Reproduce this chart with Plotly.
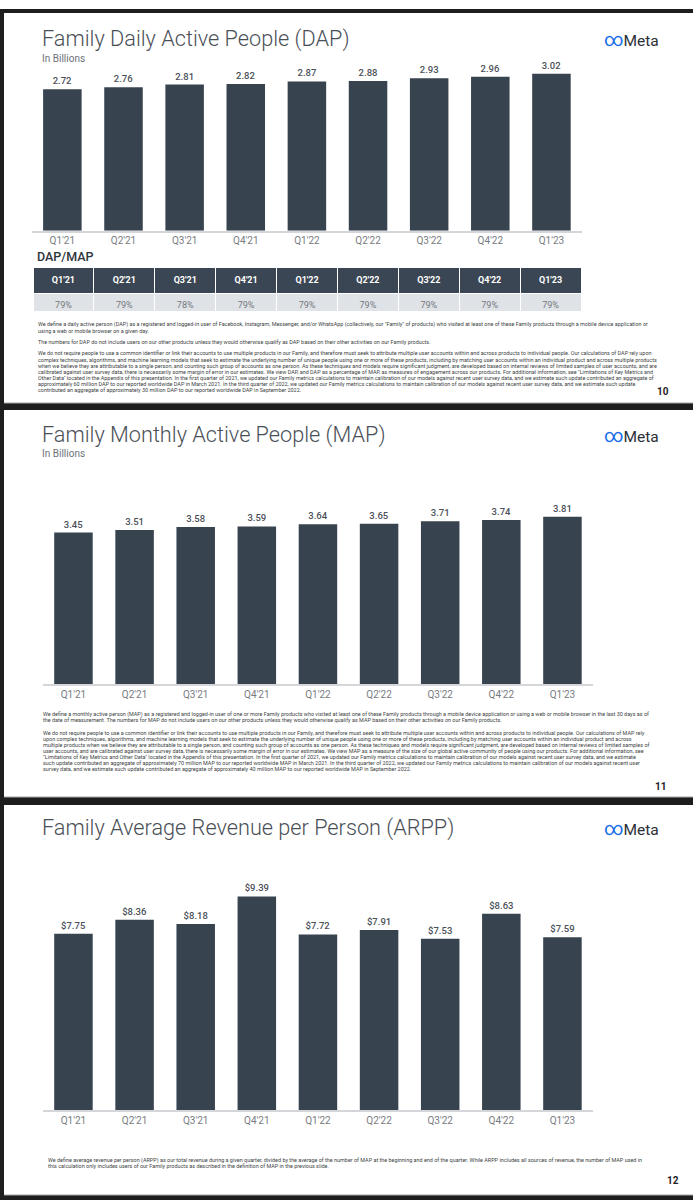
import plotly.graph_objects as go

W, H = 693, 1200

# ===== DONNÉES =====
quarters = ["Q1'21", "Q2'21", "Q3'21", "Q4'21", "Q1'22", "Q2'22", "Q3'22", "Q4'22", "Q1'23"]
dap = [2.72, 2.76, 2.81, 2.82, 2.87, 2.88, 2.93, 2.96, 3.02]
dap_map_ratio = ["79%", "79%", "78%", "79%", "79%", "79%", "79%", "79%", "79%"]
map_values = [3.45, 3.51, 3.58, 3.59, 3.64, 3.65, 3.71, 3.74, 3.81]
arpp = [7.75, 8.36, 8.18, 9.39, 7.72, 7.91, 7.53, 8.63, 7.59]

titles = [
    "Family Daily Active People (DAP)",
    "Family Monthly Active People (MAP)",
    "Family Average Revenue per Person (ARPP)",
]
page_numbers = ["10", "11", "12"]

notes_dap = [
    [
        "We define a daily active person (DAP) as a registered and logged-in user of Facebook, Instagram, Messenger, and/or WhatsApp (collectively, our \"Family\" of products) who visited at least one of these Family products through a mobile device application or",
        "using a web or mobile browser on a given day.",
    ],
    [
        "The numbers for DAP do not include users on our other products unless they would otherwise qualify as DAP based on their other activities on our Family products.",
    ],
    [
        "We do not require people to use a common identifier or link their accounts to use multiple products in our Family, and therefore must seek to attribute multiple user accounts within and across products to individual people. Our calculations of DAP rely upon",
        "complex techniques, algorithms, and machine learning models that seek to estimate the underlying number of unique people using one or more of these products, including by matching user accounts within an individual product and across multiple products",
        "when we believe they are attributable to a single person, and counting such group of accounts as one person. As these techniques and models require significant judgment, are developed based on internal reviews of limited samples of user accounts, and are",
        "calibrated against user survey data, there is necessarily some margin of error in our estimates. We view DAP, and DAP as a percentage of MAP, as measures of engagement across our products. For additional information, see \"Limitations of Key Metrics and",
        "Other Data\" located in the Appendix of this presentation. In the first quarter of 2021, we updated our Family metrics calculations to maintain calibration of our models against recent user survey data, and we estimate such update contributed an aggregate of",
        "approximately 60 million DAP to our reported worldwide DAP in March 2021. In the third quarter of 2022, we updated our Family metrics calculations to maintain calibration of our models against recent user survey data, and we estimate such update",
        "contributed an aggregate of approximately 30 million DAP to our reported worldwide DAP in September 2022.",
    ],
]
notes_map = [
    [
        "We define a monthly active person (MAP) as a registered and logged-in user of one or more Family products who visited at least one of these Family products through a mobile device application or using a web or mobile browser in the last 30 days as of",
        "the date of measurement. The numbers for MAP do not include users on our other products unless they would otherwise qualify as MAP based on their other activities on our Family products.",
    ],
    [
        "We do not require people to use a common identifier or link their accounts to use multiple products in our Family, and therefore must seek to attribute multiple user accounts within and across products to individual people. Our calculations of MAP rely",
        "upon complex techniques, algorithms, and machine learning models that seek to estimate the underlying number of unique people using one or more of these products, including by matching user accounts within an individual product and across",
        "multiple products when we believe they are attributable to a single person, and counting such group of accounts as one person. As these techniques and models require significant judgment, are developed based on internal reviews of limited samples of",
        "user accounts, and are calibrated against user survey data, there is necessarily some margin of error in our estimates. We view MAP as a measure of the size of our global active community of people using our products. For additional information, see",
        "\"Limitations of Key Metrics and Other Data\" located in the Appendix of this presentation. In the first quarter of 2021, we updated our Family metrics calculations to maintain calibration of our models against recent user survey data, and we estimate",
        "such update contributed an aggregate of approximately 70 million MAP to our reported worldwide MAP in March 2021. In the third quarter of 2022, we updated our Family metrics calculations to maintain calibration of our models against recent user",
        "survey data, and we estimate such update contributed an aggregate of approximately 40 million MAP to our reported worldwide MAP in September 2022.",
    ],
]
notes_arpp = [
    [
        "We define average revenue per person (ARPP) as our total revenue during a given quarter, divided by the average of the number of MAP at the beginning and end of the quarter. While ARPP includes all sources of revenue, the number of MAP used in",
        "this calculation only includes users of our Family products as described in the definition of MAP in the previous slide.",
    ],
]

# ===== STYLE =====
FONT = "Roboto"
BAR = "#37434f"
TITLE_COLOR = "#4a4f57"
LABEL_COLOR = "#4b5059"
TICK_COLOR = "#777b80"
DARK_BG = "#1e1e1e"


def px(x):
    return x / W


def py(y):
    return 1 - y / H


fig = go.Figure()

# ===== BARRES =====
# (nom axe, valeurs, format, domaine x en px, bas en px, px par unité, max)
charts = [
    ("", dap, "%{y:.2f}", (31.8, 582.0), 230.7, 52.0, 3.3),
    ("2", map_values, "%{y:.2f}", (42.9, 593.0), 684.0, 43.88, 4.2),
    ("3", arpp, "$%{y:.2f}", (42.9, 593.0), 1110.0, 22.75, 10.5),
]
axes_layout = {}
for suffix, values, fmt, (x0, x1), bottom, scale, ymax in charts:
    fig.add_trace(go.Bar(
        x=quarters,
        y=values,
        xaxis="x" + suffix,
        yaxis="y" + suffix,
        marker=dict(color=BAR, line=dict(width=0)),
        texttemplate=fmt,
        textposition="outside",
        textfont=dict(family=FONT, size=9.5, color=LABEL_COLOR, weight=500),
        cliponaxis=False,
        hoverinfo="skip",
        showlegend=False,
    ))
    axes_layout["xaxis" + suffix] = dict(
        domain=[px(x0), px(x1)],
        anchor="y" + suffix,
        showline=True,
        linecolor="#d4d6d9",
        linewidth=1.5,
        showgrid=False,
        zeroline=False,
        ticks="",
        tickfont=dict(family=FONT, size=10, color=TICK_COLOR),
        fixedrange=True,
    )
    axes_layout["yaxis" + suffix] = dict(
        domain=[py(bottom), py(bottom - scale * ymax)],
        anchor="x" + suffix,
        range=[0, ymax],
        visible=False,
        fixedrange=True,
    )

# ===== TABLEAU DAP/MAP =====
fig.add_trace(go.Table(
    domain=dict(x=[px(33), px(581)], y=[py(312), py(267.3)]),
    columnwidth=[1] * len(quarters),
    header=dict(
        values=[f"<b>{q}</b>" for q in quarters],
        fill_color="#3a4654",
        line=dict(color="white", width=1),
        font=dict(family=FONT, size=9, color="white"),
        align="center",
        height=18,
    ),
    cells=dict(
        values=[[v] for v in dap_map_ratio],
        fill_color="#dfe2e6",
        line=dict(color="white", width=1),
        font=dict(family=FONT, size=9, color="#74787e"),
        align="center",
        height=18,
    ),
))

# ===== FONDS DES DIAPOSITIVES =====
shapes = [
    dict(type="rect", xref="paper", yref="paper", x0=0, x1=1, y0=py(9), y1=1,
         fillcolor="white", line_width=0, layer="below"),
]
slides = [(13, 403), (410, 797), (805, 1195)]
for top, bot in slides:
    shapes.append(dict(type="rect", xref="paper", yref="paper", x0=px(4), x1=1,
                       y0=py(bot), y1=py(top), fillcolor="white", line_width=0, layer="below"))
    shapes.append(dict(type="line", xref="paper", yref="paper", x0=px(4), x1=1,
                       y0=py(bot), y1=py(bot), line=dict(color="#a5a5a5", width=1), layer="below"))

# ===== TEXTES =====
annotations = []


def add_text(text, x, y, size, color, xanchor="left", weight=None, family=FONT):
    font = dict(family=family, size=size, color=color)
    if weight:
        font["weight"] = weight
    annotations.append(dict(
        text=text, x=px(x), y=py(y), xref="paper", yref="paper",
        xanchor=xanchor, yanchor="middle", showarrow=False, font=font,
    ))


meta_logo = "<span style='color:#1a6fe8;font-size:19px'>∞</span>Meta"
title_y = [39.3, 435.0, 828.3]
for t, ty in zip(titles, title_y):
    add_text(t, 40, ty, 21.7, TITLE_COLOR, weight=300)
    add_text(meta_logo, 661, ty, 15.5, "#2b2f36", xanchor="right", weight=400)

add_text("In Billions", 40, 58.3, 10, "#6e7278")
add_text("In Billions", 40, 453.3, 10, "#6e7278")
add_text("DAP/MAP", 35, 256.7, 12.5, "#2e343b", weight=500)


def add_notes(paragraphs, x, y_start, line_step, para_gap):
    y = y_start
    for para in paragraphs:
        for line in para:
            add_text(line, x, y, 5.45, "#3c3f44")
            y += line_step
        y += para_gap


add_notes(notes_dap, 36, 324.5, 6.0, 5.5)
add_notes(notes_map, 41, 714.3, 6.0, 6.4)
add_notes(notes_arpp, 45.5, 1160.7, 5.5, 0)

for num, ny, nx in zip(page_numbers, [391.3, 786.7, 1180.0], [671, 668, 681]):
    add_text(num, nx, ny, 10, "#1f2226", xanchor="right", weight=700)

fig.update_layout(
    width=W,
    height=H,
    margin=dict(l=0, r=0, t=0, b=0),
    paper_bgcolor=DARK_BG,
    plot_bgcolor="white",
    bargap=0.37,
    hovermode=False,
    shapes=shapes,
    annotations=annotations,
    showlegend=False,
    **axes_layout,
)

fig.write_html(
    "out.html",
    config={"displayModeBar": False},
    post_script="document.body.style.margin='0';",
)
